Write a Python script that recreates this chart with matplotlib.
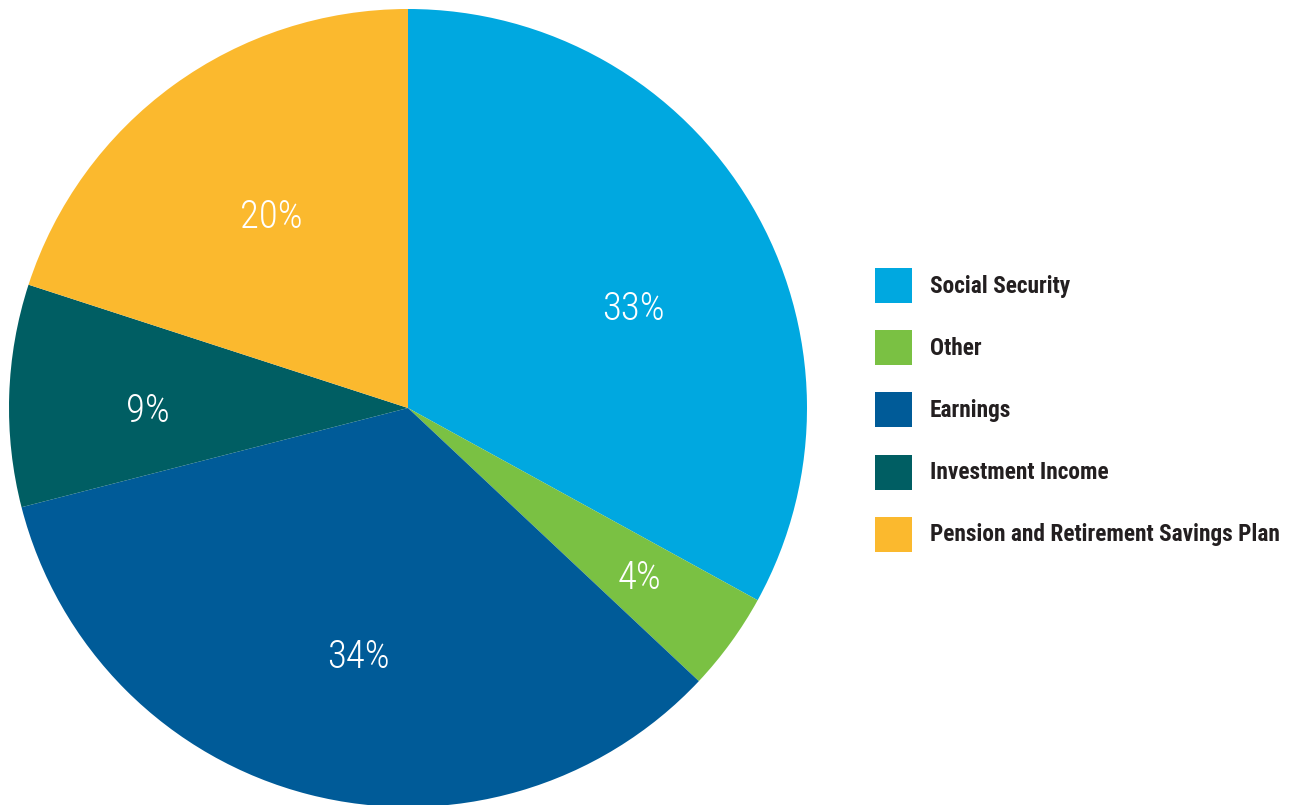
import matplotlib
matplotlib.use("Agg")
import matplotlib.pyplot as plt
import numpy as np
from matplotlib.patches import Rectangle
from matplotlib import font_manager

# data, read clockwise from 12 o'clock
categories = [
    "Social Security",
    "Other",
    "Earnings",
    "Investment Income",
    "Pension and Retirement Savings Plan",
]
shares = [33, 4, 34, 9, 20]
pct_labels = ["33%", "4%", "34%", "9%", "20%"]
colors = ["#00A8E0", "#7AC143", "#005B98", "#005E63", "#FBB92E"]

# pick a condensed face close to Helvetica Neue Condensed
names = {f.name for f in font_manager.fontManager.ttflist}
candidates = ["Roboto Condensed", "Archivo Narrow", "IBM Plex Sans Condensed",
              "PT Sans Narrow", "Open Sans Condensed", "DejaVu Sans"]
narrow = [n for n in candidates if n in names][0]

W, H = 1294, 805
fig = plt.figure(figsize=(W / 100, H / 100), dpi=100)

# pie: centre (408, 408) px from top-left, radius ~399 px
cx, cy, r = 408, 408, 399
ax = fig.add_axes([(cx - r) / W, (H - cy - r) / H, 2 * r / W, 2 * r / H])
wedges, _ = ax.pie(
    shares,
    colors=colors,
    startangle=90,
    counterclock=False,
    radius=1.0,
    wedgeprops=dict(linewidth=0),
)
ax.set_xlim(-1, 1)
ax.set_ylim(-1, 1)
ax.set_aspect("equal")
ax.axis("off")

# percentage labels (radial distance and small angular nudge per slice)
label_dist = [0.616, 0.719, 0.636, 0.652, 0.588]
label_shift = [-6.9, -0.3, 3.2, 2.6, -0.4]
for w, lab, d, s in zip(wedges, pct_labels, label_dist, label_shift):
    ang = np.deg2rad((w.theta1 + w.theta2) / 2 + s)
    ax.text(d * np.cos(ang), d * np.sin(ang), lab, color="white",
            fontsize=28, family=narrow, fontweight="light",
            ha="center", va="center")

# legend on the right, drawn by hand
x0, y_first, step = 875, 286, 62
sq_w, sq_h = 37, 35
for i, (name, col) in enumerate(zip(categories, colors)):
    yc = y_first + i * step
    fig.patches.append(Rectangle((x0 / W, (H - yc - sq_h / 2) / H), sq_w / W, sq_h / H,
                                 transform=fig.transFigure, facecolor=col,
                                 edgecolor="none"))
    fig.text((x0 + 55) / W, (H - yc) / H, name, color="#231F20", fontsize=16.8,
             family=narrow, fontweight=600, ha="left", va="center")

fig.savefig("out.png", dpi=100, facecolor="white")
